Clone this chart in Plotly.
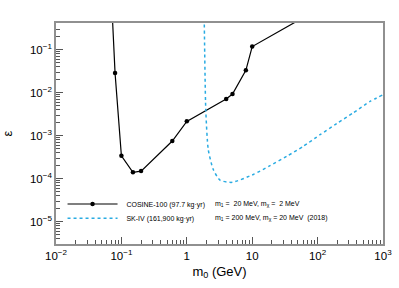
import plotly.graph_objects as go

# COSINE-100 limit (m0 in GeV, epsilon)
cos_m0 = [0.07, 0.08, 0.1, 0.15, 0.2, 0.6, 1.0, 4.0, 5.0, 8.0, 10.0, 100.0]
cos_eps = [2.0, 0.0285, 3.4e-4, 1.4e-4, 1.5e-4, 7.5e-4, 2.15e-3, 7.1e-3, 9.3e-3, 3.3e-2, 0.118, 0.86]

# SK-IV limit
sk_m0 = [1.83, 1.85, 1.95, 2.13, 2.54, 3.22, 4.91, 10.4, 18.7, 33.7, 60.4, 109, 196, 352, 633, 1000]
sk_eps = [1.0, 0.42, 4.0e-3, 4.7e-4, 1.63e-4, 9.2e-5, 8.2e-5, 1.25e-4, 2.0e-4, 3.3e-4, 5.65e-4,
          1.05e-3, 1.9e-3, 3.4e-3, 6.25e-3, 8.9e-3]

x_tickvals = [0.01, 0.1, 1, 10, 100, 1000]
x_ticktext = ["10<sup>−2</sup>", "10<sup>−1</sup>", "1", "10", "10<sup>2</sup>", "10<sup>3</sup>"]
y_tickvals = [1e-5, 1e-4, 1e-3, 1e-2, 1e-1]
y_ticktext = ["10<sup>−5</sup>", "10<sup>−4</sup>", "10<sup>−3</sup>", "10<sup>−2</sup>", "10<sup>−1</sup>"]

FONT = "Liberation Sans, Arial, sans-serif"
AX = "#909090"

fig = go.Figure()
fig.add_trace(go.Scatter(
    x=cos_m0, y=cos_eps, mode="lines+markers",
    line=dict(color="black", width=1.2),
    marker=dict(color="black", size=4.5),
    name="\u00a0\u00a0COSINE-100 (97.7 kg·yr)", legend="legend",
))
fig.add_trace(go.Scatter(
    x=sk_m0, y=sk_eps, mode="lines",
    line=dict(color="#29abe2", width=1.5, dash="dot", shape="spline", smoothing=0.6),
    name="\u00a0\u00a0SK-IV (161,900 kg·yr)", legend="legend2",
))

axis_common = dict(
    type="log", showgrid=False, zeroline=False, showline=True, linecolor=AX, linewidth=1.5,
    mirror=True, ticks="inside", ticklen=7, tickcolor="#555", tickwidth=1, automargin=False,
    tickfont=dict(family=FONT, size=11.5, color="black"),
    minor=dict(ticks="inside", ticklen=4, tickcolor="#555", tickwidth=1, dtick="D1", showgrid=False),
)

fig.update_xaxes(range=[-2, 3], tickvals=x_tickvals, ticktext=x_ticktext,
                 title=dict(text="m<sub>0</sub> (GeV)", font=dict(family=FONT, size=13, color="black"), standoff=6),
                 **axis_common)
fig.update_yaxes(range=[-5.52, -0.38], tickvals=y_tickvals, ticktext=y_ticktext,
                 title=dict(text="ε", font=dict(family=FONT, size=13, color="black"), standoff=16),
                 **axis_common)

fig.add_annotation(xref="paper", yref="paper", x=0.48, y=0.181, xanchor="left", yanchor="middle",
                   text="m<sub>1</sub> =  20 MeV, m<sub>χ</sub> =  2 MeV", showarrow=False,
                   font=dict(family=FONT, size=7, color="black"))
fig.add_annotation(xref="paper", yref="paper", x=0.48, y=0.117, xanchor="left", yanchor="middle",
                   text="m<sub>1</sub> = 200 MeV, m<sub>χ</sub> = 20 MeV  (2018)", showarrow=False,
                   font=dict(family=FONT, size=7, color="black"))

leg = dict(xanchor="left", yanchor="middle", bgcolor="rgba(0,0,0,0)",
           font=dict(family=FONT, size=7, color="black"), itemwidth=50)
fig.update_layout(
    width=399, height=288,
    margin=dict(l=56, r=16, t=23, b=44),
    paper_bgcolor="white", plot_bgcolor="white",
    showlegend=True,
    legend=dict(x=0.02, y=0.181, **leg),
    legend2=dict(x=0.02, y=0.117, **leg),
)

fig.write_html("out.html", config={"displayModeBar": False},
               post_script="document.body.style.margin='0';")
